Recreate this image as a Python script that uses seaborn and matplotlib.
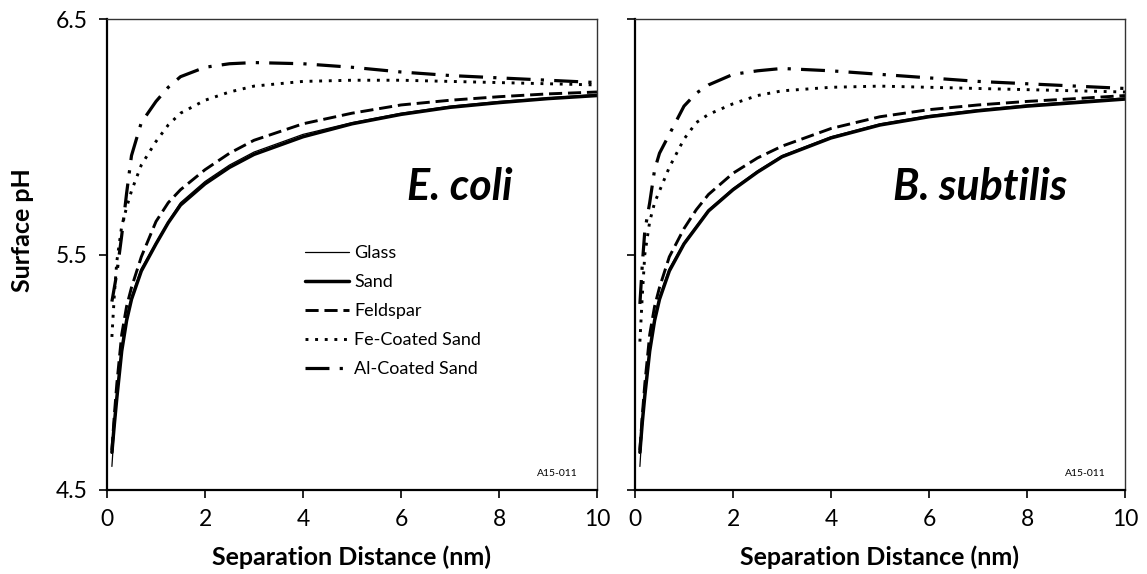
import matplotlib
matplotlib.use("Agg")
import matplotlib.pyplot as plt
import seaborn as sns
import pandas as pd

# Separation distance grid (nm)
distance = [0.1, 0.15, 0.2, 0.3, 0.4, 0.5, 0.7, 1.0, 1.25, 1.5, 2.0, 2.5, 3.0, 4.0, 5.0, 6.0, 7.0, 8.0, 9.0, 10.0]

# Surface pH, E. coli
ecoli_glass    = [4.60, 4.76, 4.88, 5.10, 5.23, 5.32, 5.44, 5.55, 5.64, 5.72, 5.81, 5.88, 5.935, 6.01, 6.06, 6.10, 6.13, 6.15, 6.165, 6.18]
ecoli_sand     = [4.66, 4.78, 4.89, 5.09, 5.22, 5.31, 5.43, 5.545, 5.635, 5.71, 5.80, 5.87, 5.925, 6.00, 6.055, 6.095, 6.125, 6.145, 6.162, 6.175]
ecoli_feldspar = [4.67, 4.82, 4.95, 5.16, 5.28, 5.36, 5.49, 5.64, 5.72, 5.775, 5.86, 5.93, 5.985, 6.055, 6.10, 6.135, 6.155, 6.17, 6.182, 6.19]
ecoli_fe       = [5.15, 5.33, 5.47, 5.62, 5.70, 5.77, 5.88, 5.98, 6.05, 6.10, 6.155, 6.19, 6.215, 6.235, 6.24, 6.24, 6.235, 6.23, 6.225, 6.22]
ecoli_al       = [5.30, 5.36, 5.42, 5.58, 5.76, 5.92, 6.06, 6.15, 6.21, 6.255, 6.295, 6.31, 6.315, 6.31, 6.295, 6.275, 6.26, 6.25, 6.24, 6.23]

# Surface pH, B. subtilis
bsub_glass    = [4.60, 4.77, 4.90, 5.10, 5.23, 5.32, 5.44, 5.55, 5.62, 5.69, 5.78, 5.855, 5.92, 6.00, 6.055, 6.09, 6.115, 6.135, 6.15, 6.165]
bsub_sand     = [4.66, 4.79, 4.90, 5.09, 5.22, 5.31, 5.43, 5.545, 5.615, 5.685, 5.775, 5.85, 5.915, 5.995, 6.05, 6.085, 6.11, 6.13, 6.145, 6.16]
bsub_feldspar = [4.67, 4.82, 4.95, 5.16, 5.28, 5.36, 5.49, 5.61, 5.69, 5.755, 5.845, 5.91, 5.96, 6.035, 6.085, 6.115, 6.135, 6.15, 6.162, 6.175]
bsub_fe       = [5.13, 5.33, 5.50, 5.64, 5.72, 5.77, 5.87, 5.99, 6.06, 6.095, 6.14, 6.175, 6.195, 6.21, 6.215, 6.21, 6.205, 6.20, 6.195, 6.19]
bsub_al       = [5.29, 5.46, 5.60, 5.72, 5.86, 5.93, 6.01, 6.13, 6.185, 6.22, 6.265, 6.28, 6.29, 6.28, 6.265, 6.25, 6.235, 6.225, 6.215, 6.205]

media = ["Glass", "Sand", "Feldspar", "Fe-Coated Sand", "Al-Coated Sand"]
panels = ["E. coli", "B. subtilis"]
series = {
    "E. coli": [ecoli_glass, ecoli_sand, ecoli_feldspar, ecoli_fe, ecoli_al],
    "B. subtilis": [bsub_glass, bsub_sand, bsub_feldspar, bsub_fe, bsub_al],
}

styles = {
    "Glass":          dict(linewidth=0.9, linestyle="-"),
    "Sand":           dict(linewidth=2.5, linestyle="-"),
    "Feldspar":       dict(linewidth=2.1, linestyle=(0, (4.5, 2.0))),
    "Fe-Coated Sand": dict(linewidth=2.1, linestyle=(0, (1.0, 2.3))),
    "Al-Coated Sand": dict(linewidth=2.3, linestyle=(0, (7.5, 3.2, 1.0, 3.2))),
}

sns.set_theme(style="ticks")
plt.rcParams["font.family"] = ["Lato", "DejaVu Sans"]
plt.rcParams.update({
    "text.color": "black",
    "axes.labelcolor": "black",
    "xtick.color": "black",
    "ytick.color": "black",
    "xtick.labelcolor": "black",
    "ytick.labelcolor": "black",
})

fig = plt.figure(figsize=(11.47, 5.74), dpi=100)
ax_l = fig.add_axes([107 / 1147, 84 / 574, 490 / 1147, 471 / 574])
ax_r = fig.add_axes([635 / 1147, 84 / 574, 490 / 1147, 471 / 574])

for ax, panel in zip([ax_l, ax_r], panels):
    for name, vals in zip(media, series[panel]):
        df = pd.DataFrame({"d": distance, "pH": vals})
        sns.lineplot(data=df, x="d", y="pH", ax=ax, color="black",
                     label=name, legend=False, **styles[name])

    ax.set_xlim(0, 10)
    ax.set_ylim(4.5, 6.5)
    ax.set_xticks([0, 2, 4, 6, 8, 10])
    ax.set_yticks([4.5, 5.5, 6.5])
    ax.tick_params(axis="both", direction="out", length=6, width=1.2,
                   color="black", labelcolor="black", labelsize=16.5, pad=8)
    for side in ["left", "bottom"]:
        ax.spines[side].set_linewidth(1.6)
        ax.spines[side].set_color("black")
    for side in ["top", "right"]:
        ax.spines[side].set_visible(True)
        ax.spines[side].set_linewidth(1.0)
        ax.spines[side].set_color("#333333")
    ax.set_xlabel("Separation Distance (nm)", fontsize=18, fontweight="bold",
                  labelpad=11, color="black")
    ax.text(9.6, 4.57, "A15-011", fontsize=7.5, ha="right", va="center", color="black")

ax_l.set_ylabel("Surface pH", fontsize=18, fontweight="bold", color="black")
ax_l.yaxis.set_label_coords(-0.148, 0.552)
ax_r.set_ylabel("")
ax_r.set_yticklabels([])

ax_l.text(7.2, 5.73, "E. coli", fontsize=31, fontweight="bold", fontstyle="italic",
          ha="center", va="baseline", color="black")
ax_r.text(7.05, 5.73, "B. subtilis", fontsize=31, fontweight="bold", fontstyle="italic",
          ha="center", va="baseline", color="black")

leg = ax_l.legend(loc="upper left", bbox_to_anchor=(0.39, 0.535), frameon=False,
                  fontsize=13, handlelength=2.4, handletextpad=0.3, labelspacing=0.72,
                  borderaxespad=0)
for t in leg.get_texts():
    t.set_color("black")

fig.savefig("out.png", dpi=100)
